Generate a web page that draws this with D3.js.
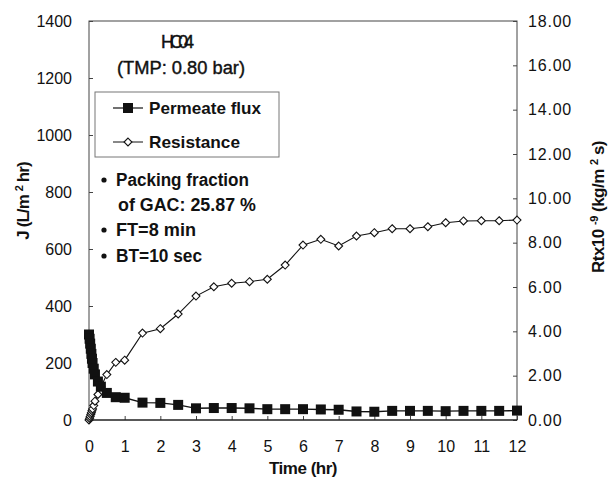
<!DOCTYPE html>
<html>
<head>
<meta charset="utf-8">
<script src="https://cdn.jsdelivr.net/npm/d3@7"></script>
<style>
  body { margin: 0; background: #fff; }
  svg text { font-family: "Liberation Sans", Arial, sans-serif; fill: #111; }
</style>
</head>
<body>
<svg id="chart" width="613" height="477"></svg>
<script>
// time points (hr)
var times = [0, 0.017, 0.033, 0.05, 0.067, 0.083, 0.1, 0.133, 0.167, 0.25, 0.333, 0.5, 0.75, 1,
  1.5, 2, 2.5, 3, 3.5, 4, 4.5, 5, 5.5, 6, 6.5, 7, 7.5, 8, 8.5, 9, 9.5, 10, 10.5, 11, 11.5, 12];
// permeate flux J (L/m2 hr)
var flux = [300, 285, 268, 250, 232, 215, 200, 180, 160, 135, 117, 95, 80, 78,
  61, 60, 53, 41, 42, 42, 41, 38, 38, 38, 37, 36, 30, 29, 32, 32, 32, 31, 32, 32, 32, 33];
// resistance Rt x10^-9 (kg/m2 s)
var resistance = [0, 0.08, 0.16, 0.25, 0.33, 0.42, 0.5, 0.65, 0.85, 1.15, 1.5, 2.05, 2.6, 2.7,
  3.92, 4.12, 4.78, 5.59, 6.01, 6.17, 6.24, 6.35, 6.99, 7.89, 8.15, 7.85, 8.3, 8.45, 8.63, 8.63, 8.72, 8.9, 8.98, 8.99, 8.99, 9.02];

var xTicks = d3.range(0, 13, 1);
var leftTicks = d3.range(0, 1401, 200);
var rightTicks = d3.range(0, 18.01, 2);

var svg = d3.select("#chart");

var x = d3.scaleLinear().domain([0, 12]).range([89, 517]);
var yL = d3.scaleLinear().domain([0, 1400]).range([420, 21]);
var yR = d3.scaleLinear().domain([0, 18]).range([420, 21]);

// frame
svg.append("rect")
    .attr("x", 89).attr("y", 21)
    .attr("width", 428).attr("height", 399)
    .attr("fill", "none")
    .attr("stroke", "#444")
    .attr("stroke-width", 1);

var gl = svg.append("g").attr("transform", "translate(89,0)")
    .call(d3.axisLeft(yL).tickValues(leftTicks).tickSize(-4).tickPadding(17).tickFormat(d3.format("d")));
var gr = svg.append("g").attr("transform", "translate(517,0)")
    .call(d3.axisRight(yR).tickValues(rightTicks).tickSize(-4).tickPadding(11).tickFormat(d3.format(".2f")));
var gb = svg.append("g").attr("transform", "translate(0,420)")
    .call(d3.axisBottom(x).tickValues(xTicks).tickSize(-4).tickPadding(21).tickFormat(d3.format("d")));

[gl, gr, gb].forEach(function(g) {
  g.select(".domain").remove();
  g.selectAll(".tick line").attr("stroke", "#444");
  g.selectAll(".tick text").style("font-size", "16px").style("font-family", "Liberation Sans, Arial, sans-serif").attr("fill", "#111");
});
gr.selectAll(".tick text").style("letter-spacing", "0.8px");
svg.append("line").attr("x1", 89).attr("x2", 517).attr("y1", 420).attr("y2", 420)
    .attr("stroke", "#111").attr("stroke-width", 1.2);

// axis titles
svg.append("text")
    .attr("transform", "translate(29,201) rotate(-90)")
    .attr("text-anchor", "middle")
    .style("font-size", "17px").style("font-weight", "bold")
    .style("letter-spacing", "-0.9px")
    .html('J (L/m <tspan dy="-6" font-size="11">2</tspan><tspan dy="6"> hr)</tspan>');

svg.append("text")
    .attr("transform", "translate(604,207) rotate(-90)")
    .attr("text-anchor", "middle")
    .style("font-size", "17px").style("font-weight", "bold")
    .style("letter-spacing", "-0.5px")
    .html('Rtx10 <tspan dy="-6" font-size="11">-9</tspan><tspan dy="6"> (kg/m </tspan><tspan dy="-6" font-size="11">2</tspan><tspan dy="6"> s)</tspan>');

svg.append("text")
    .attr("x", 303).attr("y", 474)
    .attr("text-anchor", "middle")
    .style("font-size", "17px").style("font-weight", "bold")
    .style("letter-spacing", "-0.5px")
    .text("Time (hr)");

var pts = times.map(function(t, i) { return {t: t, f: flux[i], r: resistance[i]}; });

// resistance series
svg.append("path")
    .datum(pts)
    .attr("fill", "none").attr("stroke", "#111").attr("stroke-width", 1.1)
    .attr("d", d3.line().x(function(d) { return x(d.t); }).y(function(d) { return yR(d.r); }));

var diamond = d3.symbol().type(d3.symbolDiamond2).size(40);
svg.append("g").selectAll("path")
    .data(pts).enter().append("path")
    .attr("transform", function(d) { return "translate(" + x(d.t) + "," + yR(d.r) + ")"; })
    .attr("d", diamond)
    .attr("fill", "#fff").attr("stroke", "#111").attr("stroke-width", 1.1);

// flux series
svg.append("path")
    .datum(pts)
    .attr("fill", "none").attr("stroke", "#111").attr("stroke-width", 1.4)
    .attr("d", d3.line().x(function(d) { return x(d.t); }).y(function(d) { return yL(d.f); }));

svg.append("g").selectAll("rect")
    .data(pts).enter().append("rect")
    .attr("x", function(d) { return x(d.t) - 5; })
    .attr("y", function(d) { return yL(d.f) - 5; })
    .attr("width", 10).attr("height", 10)
    .attr("fill", "#111");

// annotation (widths fitted to the scan)
function fitText(str, xPos, yPos, size, len, bold, adjust) {
  return svg.append("text").attr("x", xPos).attr("y", yPos)
      .attr("textLength", len).attr("lengthAdjust", adjust || "spacingAndGlyphs")
      .style("font-size", size + "px")
      .style("font-weight", bold ? "bold" : "normal")
      .text(str);
}
fitText("HC04", 161, 48, 18, 33, false, "spacing").attr("stroke", "#111").attr("stroke-width", 0.4);
fitText("(TMP: 0.80 bar)", 117, 74, 18, 128, false).attr("stroke", "#111").attr("stroke-width", 0.4);

// legend
svg.append("rect").attr("x", 95).attr("y", 92).attr("width", 184).attr("height", 65)
    .attr("fill", "#fff").attr("stroke", "#777").attr("stroke-width", 1);
var leg = svg.append("g");
leg.append("line").attr("x1", 113).attr("x2", 143).attr("y1", 108).attr("y2", 108).attr("stroke", "#111").attr("stroke-width", 1.2);
leg.append("rect").attr("x", 123).attr("y", 103).attr("width", 10).attr("height", 10).attr("fill", "#111");
fitText("Permeate flux", 149, 114, 17, 112, true);
leg.append("line").attr("x1", 113).attr("x2", 143).attr("y1", 142).attr("y2", 142).attr("stroke", "#111").attr("stroke-width", 1);
leg.append("path").attr("transform", "translate(128,142)").attr("d", diamond)
    .attr("fill", "#fff").attr("stroke", "#111").attr("stroke-width", 1.1);
fitText("Resistance", 149, 148, 17, 91, true);

// notes
var notes = [
  {bullet: true, text: "Packing fraction", y: 186, x: 116, len: 133},
  {bullet: false, text: "of GAC: 25.87 %", y: 211, x: 118, len: 138},
  {bullet: true, text: "FT=8 min", y: 236, x: 116, len: 80},
  {bullet: true, text: "BT=10 sec", y: 262, x: 116, len: 86}
];
notes.forEach(function(n) {
  if (n.bullet) {
    svg.append("circle").attr("cx", 104).attr("cy", n.y - 6).attr("r", 2.6).attr("fill", "#111");
  }
  fitText(n.text, n.x, n.y, 18, n.len, true);
});
</script>
</body>
</html>
